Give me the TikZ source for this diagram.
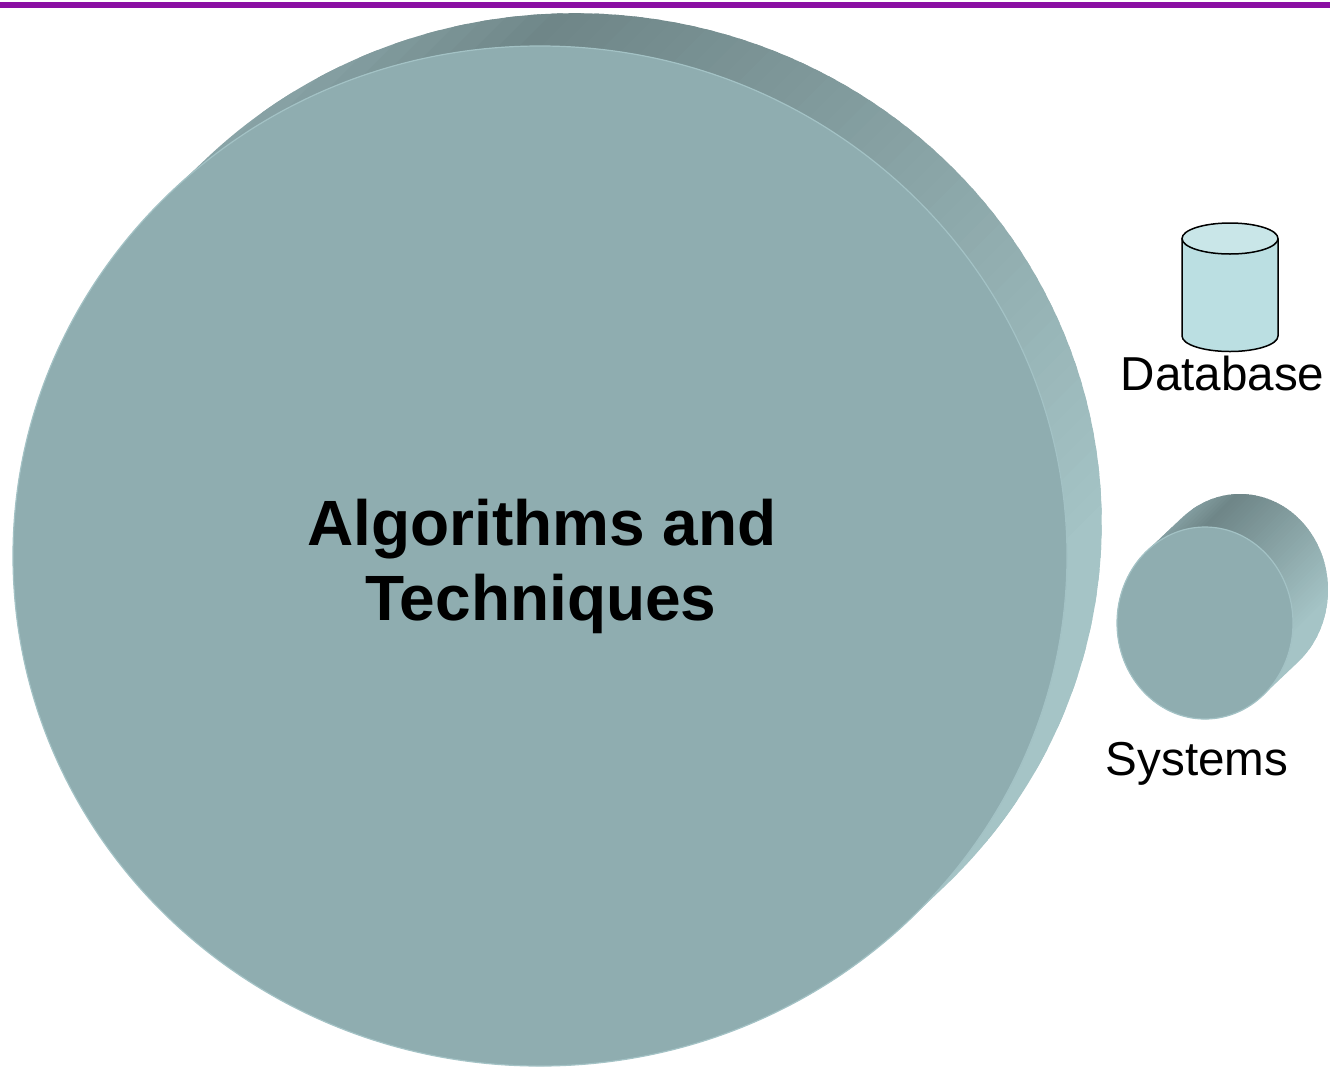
\documentclass[tikz,border=0pt]{standalone}
\usepackage{fontspec}
\setmainfont{Liberation Sans}
\definecolor{faceC}{HTML}{8FADB0}
\definecolor{rimC}{HTML}{A3C2C5}
\definecolor{dbBody}{HTML}{BBDFE2}
\definecolor{dbTop}{HTML}{C9E6E8}
\definecolor{barC}{HTML}{8B0FA3}
\newcommand{\bandstrips}[2]{%
  \foreach \k in {0,...,69}{%
    \pgfmathsetmacro{\sw}{(#2-#1)/70}%
    \pgfmathsetmacro{\sa}{#1+\sw*\k}%
    \pgfmathsetmacro{\sb}{#1+\sw*(\k+1.5)}%
    \pgfmathsetmacro{\f}{(\k+0.5)/70}%
    \pgfmathtruncatemacro{\cr}{\f<0.15 ? 139+(111-139)*\f/0.15 : (\f<0.85 ? 111+(165-111)*(\f-0.15)/0.7 : 165)}%
    \pgfmathtruncatemacro{\cg}{\f<0.15 ? 166+(134-166)*\f/0.15 : (\f<0.85 ? 134+(196-134)*(\f-0.15)/0.7 : 196)}%
    \pgfmathtruncatemacro{\cb}{\f<0.15 ? 169+(136-169)*\f/0.15 : (\f<0.85 ? 136+(198-136)*(\f-0.15)/0.7 : 198)}%
    \definecolor{stripC}{RGB}{\cr,\cg,\cb}%
    \fill[stripC] ({(\sa+1500)*0.70711},{(\sa-1500)*0.70711}) -- ({(\sb+1500)*0.70711},{(\sb-1500)*0.70711}) -- ({(\sb-1500)*0.70711},{(\sb+1500)*0.70711}) -- ({(\sa-1500)*0.70711},{(\sa+1500)*0.70711}) -- cycle;
  }}
\tikzset{
  facestyle/.style={fill=faceC, draw=rimC, line width=1.2},
  lbl/.style={font=\fontsize{47.6}{56}\selectfont, inner sep=0pt},
  ttl/.style={font=\fontsize{64}{75}\selectfont\bfseries, inner sep=0pt},
  dbline/.style={draw=black, line width=1.5}
}
\begin{document}
\begin{tikzpicture}[x=1pt,y=-1pt]
\useasboundingbox (0,0) rectangle (1330,1069);
\fill[white] (0,0) rectangle (1330,1069);
% top bar
\fill[barC] (0,2) rectangle (1330,8);
% big disc side
\begin{scope}
\clip (206.7,158.2) arc[start angle=225.7, end angle=405.7, x radius=527, y radius=510] -- (908.3,920.8) arc[start angle=45.7, end angle=225.7, x radius=527, y radius=510] -- cycle;
\bandstrips{250}{1300}
\end{scope}
\path[facestyle] (540,556) ellipse [x radius=527, y radius=510];
% small disc side
\begin{scope}
\clip (1182.5,517.3) arc[start angle=229.2, end angle=409.2, x radius=88, y radius=96] -- (1262.5,695.7) arc[start angle=49.2, end angle=229.2, x radius=88, y radius=96] -- cycle;
\bandstrips{1195}{1392}
\end{scope}
\path[facestyle] (1205,623) ellipse [x radius=88, y radius=96];
% database cylinder
\fill[dbBody] (1182,238.5) -- (1182,336) arc[start angle=180, end angle=0, x radius=48, y radius=15.5] -- (1278,238.5) -- cycle;
\draw[dbline] (1182,238.5) -- (1182,336) arc[start angle=180, end angle=0, x radius=48, y radius=15.5] -- (1278,238.5);
\path[dbline, fill=dbTop] (1230,238.5) ellipse [x radius=48, y radius=15.5];
% texts
\node[lbl, anchor=base] (dbL) at (1222.5,390) {Database};
\node[lbl, anchor=base] (sysL) at (1197,775) {Systems};
\node[ttl, anchor=base] (t1) at (542,545) {Algorithms and};
\node[ttl, anchor=base] (t2) at (541,620) {Techniques};
\end{tikzpicture}
\end{document}
